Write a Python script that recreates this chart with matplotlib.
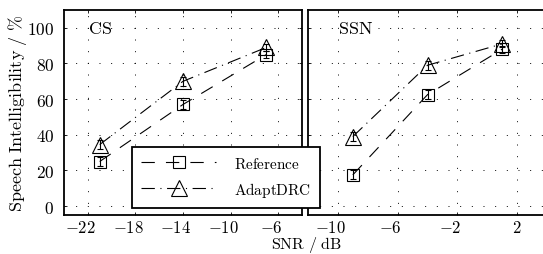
import matplotlib
matplotlib.use('Agg')
import matplotlib.pyplot as plt
import matplotlib.transforms as mtransforms
from matplotlib.ticker import FuncFormatter

plt.rcParams['mathtext.fontset'] = 'cm'
plt.rcParams['font.family'] = ['DejaVu Serif']

# CS panel
cs_snr = [-21, -14, -7]
cs_ref = [25, 57, 85]
cs_adapt = [34.5, 70, 89]
cs_ref_err = [2.5, 2.5, 2]
cs_adapt_err = [2.5, 2.5, 2]

# SSN panel
ssn_snr = [-9, -4, 1]
ssn_ref = [17.5, 62.5, 88]
ssn_adapt = [39, 79, 91]
ssn_ref_err = [2.5, 2.5, 2]
ssn_adapt_err = [2.5, 2.5, 2]

y_ticks = [0, 20, 40, 60, 80, 100]
cs_ticks = [-22, -18, -14, -10, -6]
ssn_ticks = [-10, -6, -2, 2]

fig = plt.figure(figsize=(5.43, 2.55), dpi=100)
ax1 = fig.add_axes([64/543, 39/255, 238/543, 205/255])
ax2 = fig.add_axes([308/543, 39/255, 239/543, 205/255])

ref_style = dict(color='black', lw=0.8, dashes=(12, 10), marker='s', ms=8,
                 mfc='none', mec='black', mew=0.8)
adapt_style = dict(color='black', lw=0.8, dashes=(12, 5, 1, 5), marker='^', ms=11,
                   mfc='none', mec='black', mew=0.8)
err_style = dict(fmt='none', ecolor='black', elinewidth=0.8, capsize=2, capthick=0.8)

def mathfmt(v, pos):
    return '$%d$' % v

for ax, x, r, a, re, ae, xt, xl, name in [
        (ax1, cs_snr, cs_ref, cs_adapt, cs_ref_err, cs_adapt_err, cs_ticks, (-24, -4), 'CS'),
        (ax2, ssn_snr, ssn_ref, ssn_adapt, ssn_ref_err, ssn_adapt_err, ssn_ticks, (-12, 4), 'SSN')]:
    l1, = ax.plot(x, r, label='Reference', **ref_style)
    l2, = ax.plot(x, a, label='AdaptDRC', **adapt_style)
    ax.errorbar(x, r, yerr=re, **err_style)
    ax.errorbar(x, a, yerr=ae, **err_style)
    ax.set_xlim(*xl)
    ax.set_ylim(-5, 110)
    ax.set_xticks(xt)
    ax.set_yticks(y_ticks)
    ax.set_xticklabels([])
    ax.yaxis.set_major_formatter(FuncFormatter(mathfmt))
    ax.tick_params(direction='in', length=2.5, width=0.6, top=True, right=True,
                   labelsize=12.5, pad=7)
    ax.grid(True, color='black', lw=0.7, dashes=(1, 11))
    for s in ax.spines.values():
        s.set_linewidth(1.3)
    ax.text(xl[0] + 2, 100, r'$\mathrm{%s}$' % name, fontsize=13, va='center', ha='left')
    # x tick labels: digits centred on the tick, minus sign hanging to the left
    trans = mtransforms.blended_transform_factory(ax.transData, ax.transAxes)
    for v in xt:
        shift = -0.07 if v < 0 else 0
        ax.text(v, -0.02, '$%d$' % v, fontsize=12, ha='center', va='top',
                transform=trans + mtransforms.ScaledTranslation(shift, 0, fig.dpi_scale_trans))

ax2.tick_params(labelleft=False)
ax1.set_ylabel(r'$\mathrm{Speech\ Intelligibility\ /\ \%}$', fontsize=13)
ax1.yaxis.set_label_coords(-0.148, 0.5)
fig.text(307/543, 0.0, r'$\mathrm{SNR\ /\ dB}$', fontsize=11.5, ha='center', va='bottom')

leg = fig.legend([l1, l2], [r'$\mathrm{Reference}$', r'$\mathrm{AdaptDRC}$'], loc='lower left',
                 bbox_to_anchor=(132/543, 46/255), borderaxespad=0, fontsize=11,
                 handlelength=4.9, fancybox=False, framealpha=1, edgecolor='black',
                 markerscale=1.1, borderpad=0.6, labelspacing=0.6, handletextpad=1.15)
leg.get_frame().set_linewidth(1.3)
leg.set_zorder(10)

fig.savefig('out.png', dpi=100)
